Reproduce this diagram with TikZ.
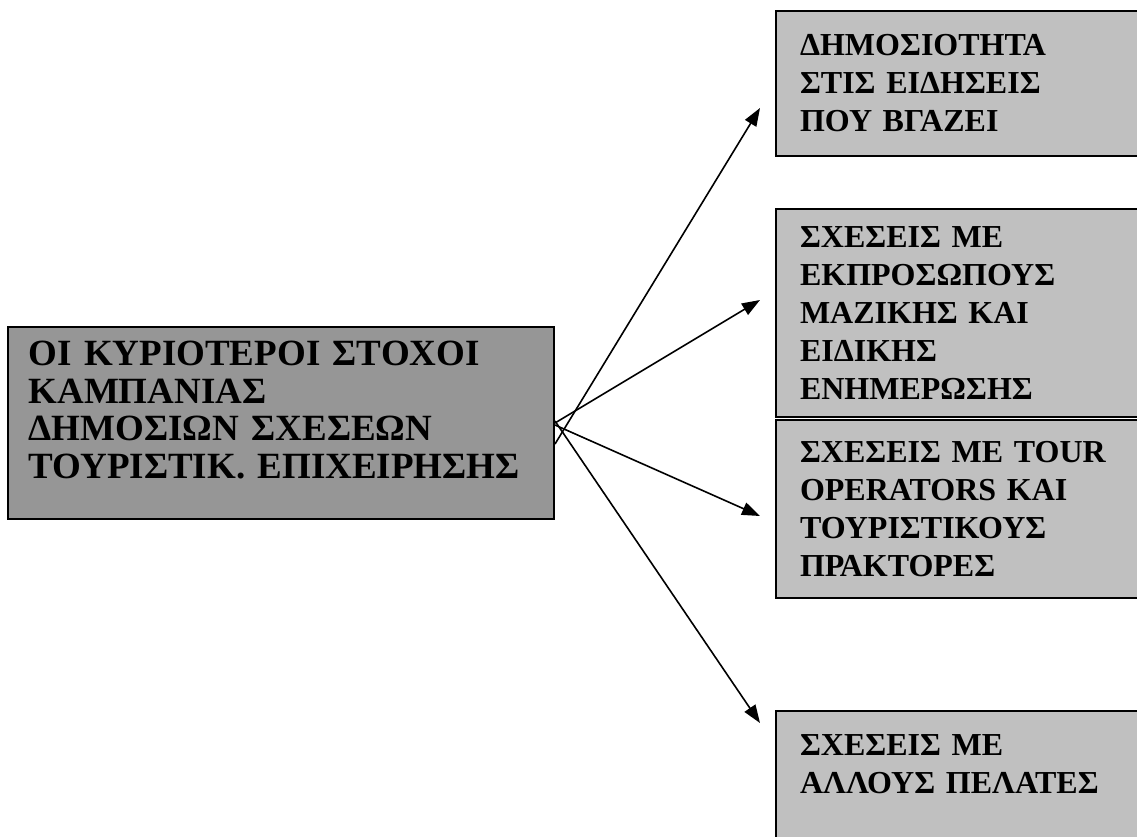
\documentclass[tikz,border=0pt]{standalone}
\usepackage{fontspec}
\setmainfont{Liberation Serif}
\usetikzlibrary{arrows.meta}
\definecolor{maingray}{RGB}{150,150,150}
\definecolor{boxgray}{RGB}{192,192,192}

\begin{document}
\begin{tikzpicture}[x=1pt,y=-1pt,
                    goal/.style={draw,line width=2pt,fill=boxgray,anchor=north west,
                                 align=left,text width=340pt,inner xsep=24pt,inner ysep=0pt,
                                 font=\fontsize{32}{38}\selectfont\bfseries},
                    arr/.style={line width=1.6pt,-{Triangle[length=18pt,width=13pt]}}]
   \useasboundingbox (0,0) rectangle (1137,836);
   \clip (0,0) rectangle (1137,836);
   \node (stoxoi) [draw,line width=2pt,fill=maingray,anchor=north west,
                   align=left,text width=505pt,inner xsep=20.5pt,inner ysep=0pt,
                   minimum height=192pt,
                   font=\fontsize{37}{37.5}\selectfont\bfseries] at (7,326)
     {ΟΙ ΚΥΡΙΟΤΕΡΟΙ ΣΤΟΧΟΙ\\ΚΑΜΠΑΝΙΑΣ\\ΔΗΜΟΣΙΩΝ ΣΧΕΣΕΩΝ\\ΤΟΥΡΙΣΤΙΚ. ΕΠΙΧΕΙΡΗΣΗΣ\\[-11pt]~};
   \node (dimosiotita) [goal,minimum height=145pt] at (775,10)
     {ΔΗΜΟΣΙΟΤΗΤΑ\\ΣΤΙΣ ΕΙΔΗΣΕΙΣ\\ΠΟΥ ΒΓΑΖΕΙ};
   \node (mme) [goal,minimum height=208pt] at (775,208)
     {ΣΧΕΣΕΙΣ ΜΕ\\ΕΚΠΡΟΣΩΠΟΥΣ\\ΜΑΖΙΚΗΣ ΚΑΙ\\ΕΙΔΙΚΗΣ\\ΕΝΗΜΕΡΩΣΗΣ};
   \node (tour) [goal,minimum height=178pt] at (775,419)
     {ΣΧΕΣΕΙΣ ΜΕ TOUR\\OPERATORS ΚΑΙ\\ΤΟΥΡΙΣΤΙΚΟΥΣ\\ΠΡΑΚΤΟΡΕΣ};
   \node (pelates) [goal,minimum height=145pt] at (775,710)
     {ΣΧΕΣΕΙΣ ΜΕ\\ΑΛΛΟΥΣ ΠΕΛΑΤΕΣ\\~};
   \draw [arr] ([yshift=-21pt]stoxoi.east) -- ([shift={(-15,24.5)}]dimosiotita.west);
   \draw [arr] (stoxoi.east) -- ([shift={(-15,-13)}]mme.west);
   \draw [arr] ([yshift=-2pt]stoxoi.east) -- ([shift={(-15,7)}]tour.west);
   \draw [arr] ([yshift=2pt]stoxoi.east) -- ([shift={(-15,13)}]pelates.north west);
\end{tikzpicture}
\end{document}
